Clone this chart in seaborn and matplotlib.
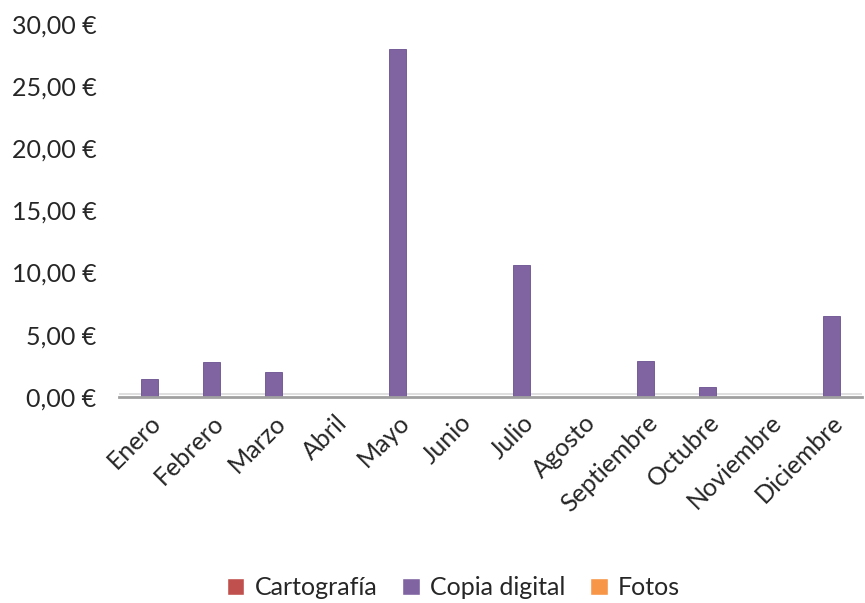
import pandas as pd
import matplotlib.pyplot as plt
import seaborn as sns
from matplotlib.patches import Patch

# datos
meses = ['Enero', 'Febrero', 'Marzo', 'Abril', 'Mayo', 'Junio', 'Julio',
         'Agosto', 'Septiembre', 'Octubre', 'Noviembre', 'Diciembre']
copia_digital = [1.4, 2.8, 2.0, 0.0, 28.0, 0.0, 10.6, 0.0, 2.9, 0.8, 0.0, 6.5]
series = ['Cartografía', 'Copia digital', 'Fotos']
colores = ['#C0504D', '#8064A2', '#F79646']

df = pd.DataFrame({'mes': meses, 'valor': copia_digital})

sns.set_style('white')
plt.rcParams['font.family'] = ['Lato', 'DejaVu Sans']

fig = plt.figure(figsize=(8.65, 6.03), dpi=100)
ax = fig.add_axes([0.137, 0.342, 0.86, 0.618])

ax.axhline(0.25, color='#D9D9D9', linewidth=1.2, zorder=0)
sns.barplot(data=df, x='mes', y='valor', color=colores[1], width=0.27,
            saturation=1, edgecolor='#6A5090', linewidth=0.6, ax=ax, zorder=2)

ax.set_xlim(-0.5, 11.5)
ax.set_ylim(0, 30)
yt = [0, 5, 10, 15, 20, 25, 30]
ax.set_yticks(yt)
ax.set_yticklabels([f'{v:.2f} €'.replace('.', ',') for v in yt], fontsize=18)
ax.set_xticks(range(len(meses)))
ax.set_xticklabels(meses, rotation=45, ha='right', rotation_mode='anchor', fontsize=18)
ax.tick_params(axis='y', length=0, pad=16)
ax.tick_params(axis='x', length=0, pad=10)
ax.set_xlabel('')
ax.set_ylabel('')

for s in ['top', 'right', 'left']:
    ax.spines[s].set_visible(False)
ax.spines['bottom'].set_color('#A0A0A0')
ax.spines['bottom'].set_linewidth(2)

handles = [Patch(facecolor=c, label=s) for s, c in zip(series, colores)]
fig.legend(handles=handles, loc='center', bbox_to_anchor=(0.524, 0.025), ncol=3,
           frameon=False, fontsize=18, handlelength=0.7, handleheight=0.7,
           columnspacing=1.0, handletextpad=0.4)

plt.savefig('out.png', dpi=100)
